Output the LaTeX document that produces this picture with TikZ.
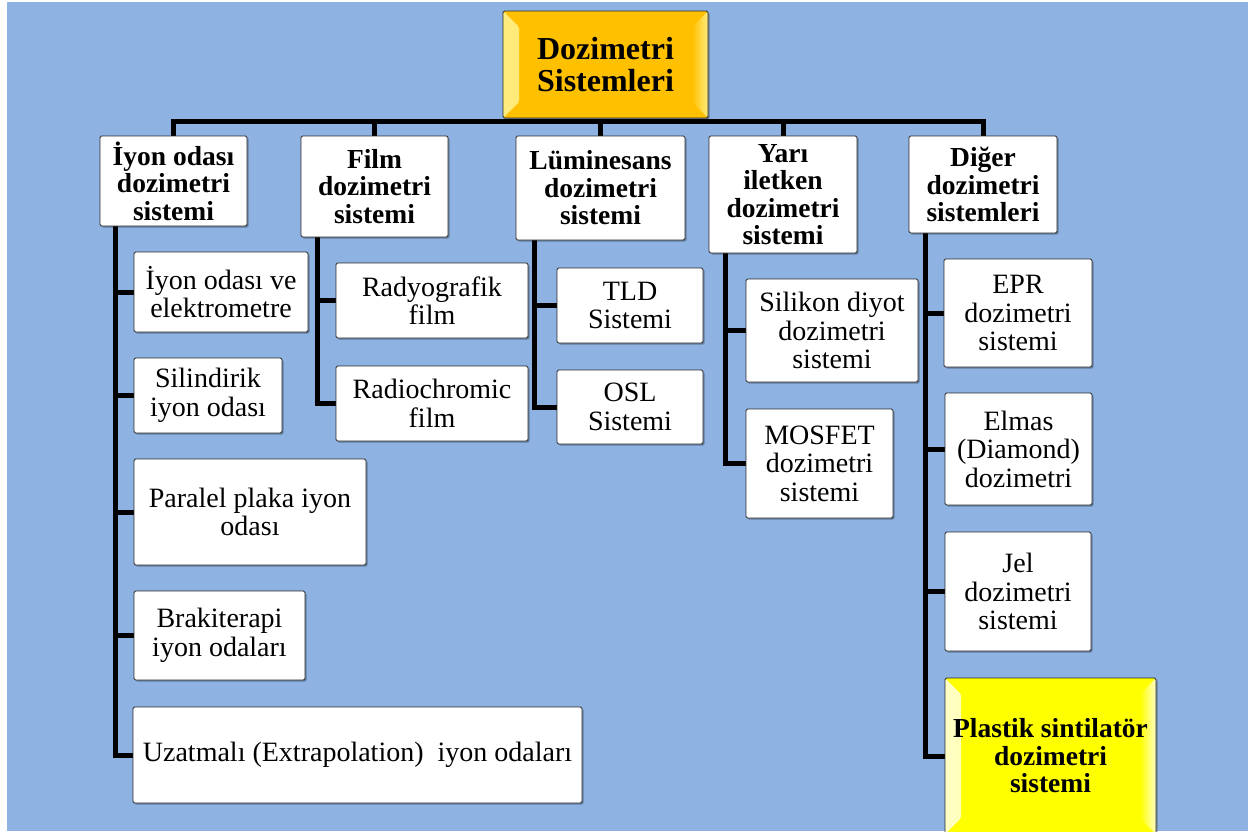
\documentclass[tikz,border=0pt]{standalone}
\usepackage{fontspec}
\setmainfont{Liberation Serif}
\usetikzlibrary{shadows}
\definecolor{bgblue}{HTML}{8EB3E3}
\definecolor{gold}{HTML}{FFC000}
\definecolor{goldlight}{HTML}{FFEC80}
\definecolor{yel}{HTML}{FFFF00}
\definecolor{yellight}{HTML}{FFFFC8}
\definecolor{edgegray}{HTML}{2A2A2A}
\newcommand\myreg{\fontsize{28}{28.5}\selectfont}
\newcommand\mybold{\fontsize{27.5}{27.5}\selectfont\bfseries}
\newcommand\mytop{\fontsize{32}{32}\selectfont\bfseries}
\pgfdeclarelayer{bgl}
\pgfdeclarelayer{edgel}
\pgfsetlayers{bgl,edgel,main}
\tikzset{
  box/.style={draw=edgegray, line width=0.9pt, fill=white, rounded corners=1.5pt,
    inner sep=2pt, outer sep=0pt, align=center, anchor=north west, font=\myreg,
    drop shadow={shadow xshift=1.5pt, shadow yshift=-1.5pt, opacity=0.3, fill=black}},
  hbox/.style={box, font=\mybold},
  conn/.style={line width=5pt, draw=black},
  bevel/.style 2 args={path picture={
    \shade[left color=#1, right color=#2]
      (path picture bounding box.north west) -- ([xshift=16pt,yshift=-16pt]path picture bounding box.north west)
      -- ([xshift=16pt,yshift=16pt]path picture bounding box.south west) -- (path picture bounding box.south west) -- cycle;
    \shade[left color=#2, right color=#1]
      (path picture bounding box.north east) -- ([xshift=-16pt,yshift=-16pt]path picture bounding box.north east)
      -- ([xshift=-16pt,yshift=16pt]path picture bounding box.south east) -- (path picture bounding box.south east) -- cycle;
  }},
}
\begin{document}
\begin{tikzpicture}[x=1pt,y=-1pt]
\useasboundingbox (0,0) rectangle (1250,831);
\begin{pgfonlayer}{bgl}
  \fill[white] (0,0) rectangle (1250,831);
  \fill[bgblue] (7,2) rectangle (1248,831);
\end{pgfonlayer}

% root
\node[box, font=\mytop, fill=gold, bevel={goldlight}{gold}, minimum width=205, minimum height=107] (top) at (503,11) {Dozimetri\\Sistemleri};

% level 2
\node[hbox, minimum width=147, minimum height=90]  (p1) at (100,136) {İyon odası\\dozimetri\\sistemi};
\node[hbox, minimum width=147, minimum height=101] (p2) at (301,136) {Film\\dozimetri\\sistemi};
\node[hbox, minimum width=169, minimum height=104] (p3) at (516,136) {Lüminesans\\dozimetri\\sistemi};
\node[hbox, minimum width=148, minimum height=117] (p4) at (709,136) {Yarı\\iletken\\dozimetri\\sistemi};
\node[hbox, minimum width=148, minimum height=97]  (p5) at (909,136) {Diğer\\dozimetri\\sistemleri};

% column 1
\node[box, minimum width=174, minimum height=80]  (c11) at (134,252) {İyon odası ve\\elektrometre};
\node[box, minimum width=148, minimum height=75]  (c12) at (134,358) {Silindirik\\iyon odası};
\node[box, minimum width=232, minimum height=106] (c13) at (134,459) {Paralel plaka iyon\\odası};
\node[box, minimum width=171, minimum height=89]  (c14) at (134,591) {Brakiterapi\\iyon odaları};
\node[box, minimum width=449, minimum height=96]  (c15) at (133,707) {Uzatmalı (Extrapolation)~ iyon odaları};

% column 2
\node[box, minimum width=192, minimum height=75] (c21) at (336,263) {Radyografik\\film};
\node[box, minimum width=192, minimum height=75] (c22) at (336,366) {Radiochromic\\film};

% column 3
\node[box, minimum width=146, minimum height=75] (c31) at (557,268) {TLD\\Sistemi};
\node[box, minimum width=146, minimum height=74] (c32) at (557,370) {OSL\\Sistemi};

% column 4
\node[box, minimum width=172, minimum height=103] (c41) at (746,279) {Silikon diyot\\dozimetri\\sistemi};
\node[box, minimum width=147, minimum height=109] (c42) at (746,409) {MOSFET\\dozimetri\\sistemi};

% column 5
\node[box, minimum width=148, minimum height=108] (c51) at (944,259) {EPR\\dozimetri\\sistemi};
\node[box, minimum width=147, minimum height=112] (c52) at (945,393) {Elmas\\(Diamond)\\dozimetri};
\node[box, minimum width=146, minimum height=119] (c53) at (945,532) {Jel\\dozimetri\\sistemi};
\node[box, font=\mybold, fill=yel, bevel={yellight}{yel}, minimum width=211, minimum height=156] (c54) at (945,678) {Plastik sintilatör\\dozimetri\\sistemi};

\begin{pgfonlayer}{edgel}
  \foreach \p in {p1,p2,p3,p4,p5}
    \draw[conn] ([yshift=-3pt]top.south) -| (\p.north);
  \foreach \c in {c11,c12,c13,c14,c15}
    \draw[conn] ([xshift=15pt]p1.south west) |- (\c.west);
  \foreach \c in {c21,c22}
    \draw[conn] ([xshift=16pt]p2.south west) |- (\c.west);
  \foreach \c in {c31,c32}
    \draw[conn] ([xshift=18pt]p3.south west) |- (\c.west);
  \foreach \c in {c41,c42}
    \draw[conn] ([xshift=16pt]p4.south west) |- (\c.west);
  \foreach \c in {c51,c52,c53,c54}
    \draw[conn] ([xshift=16pt]p5.south west) |- (\c.west);
\end{pgfonlayer}
\end{tikzpicture}
\end{document}
